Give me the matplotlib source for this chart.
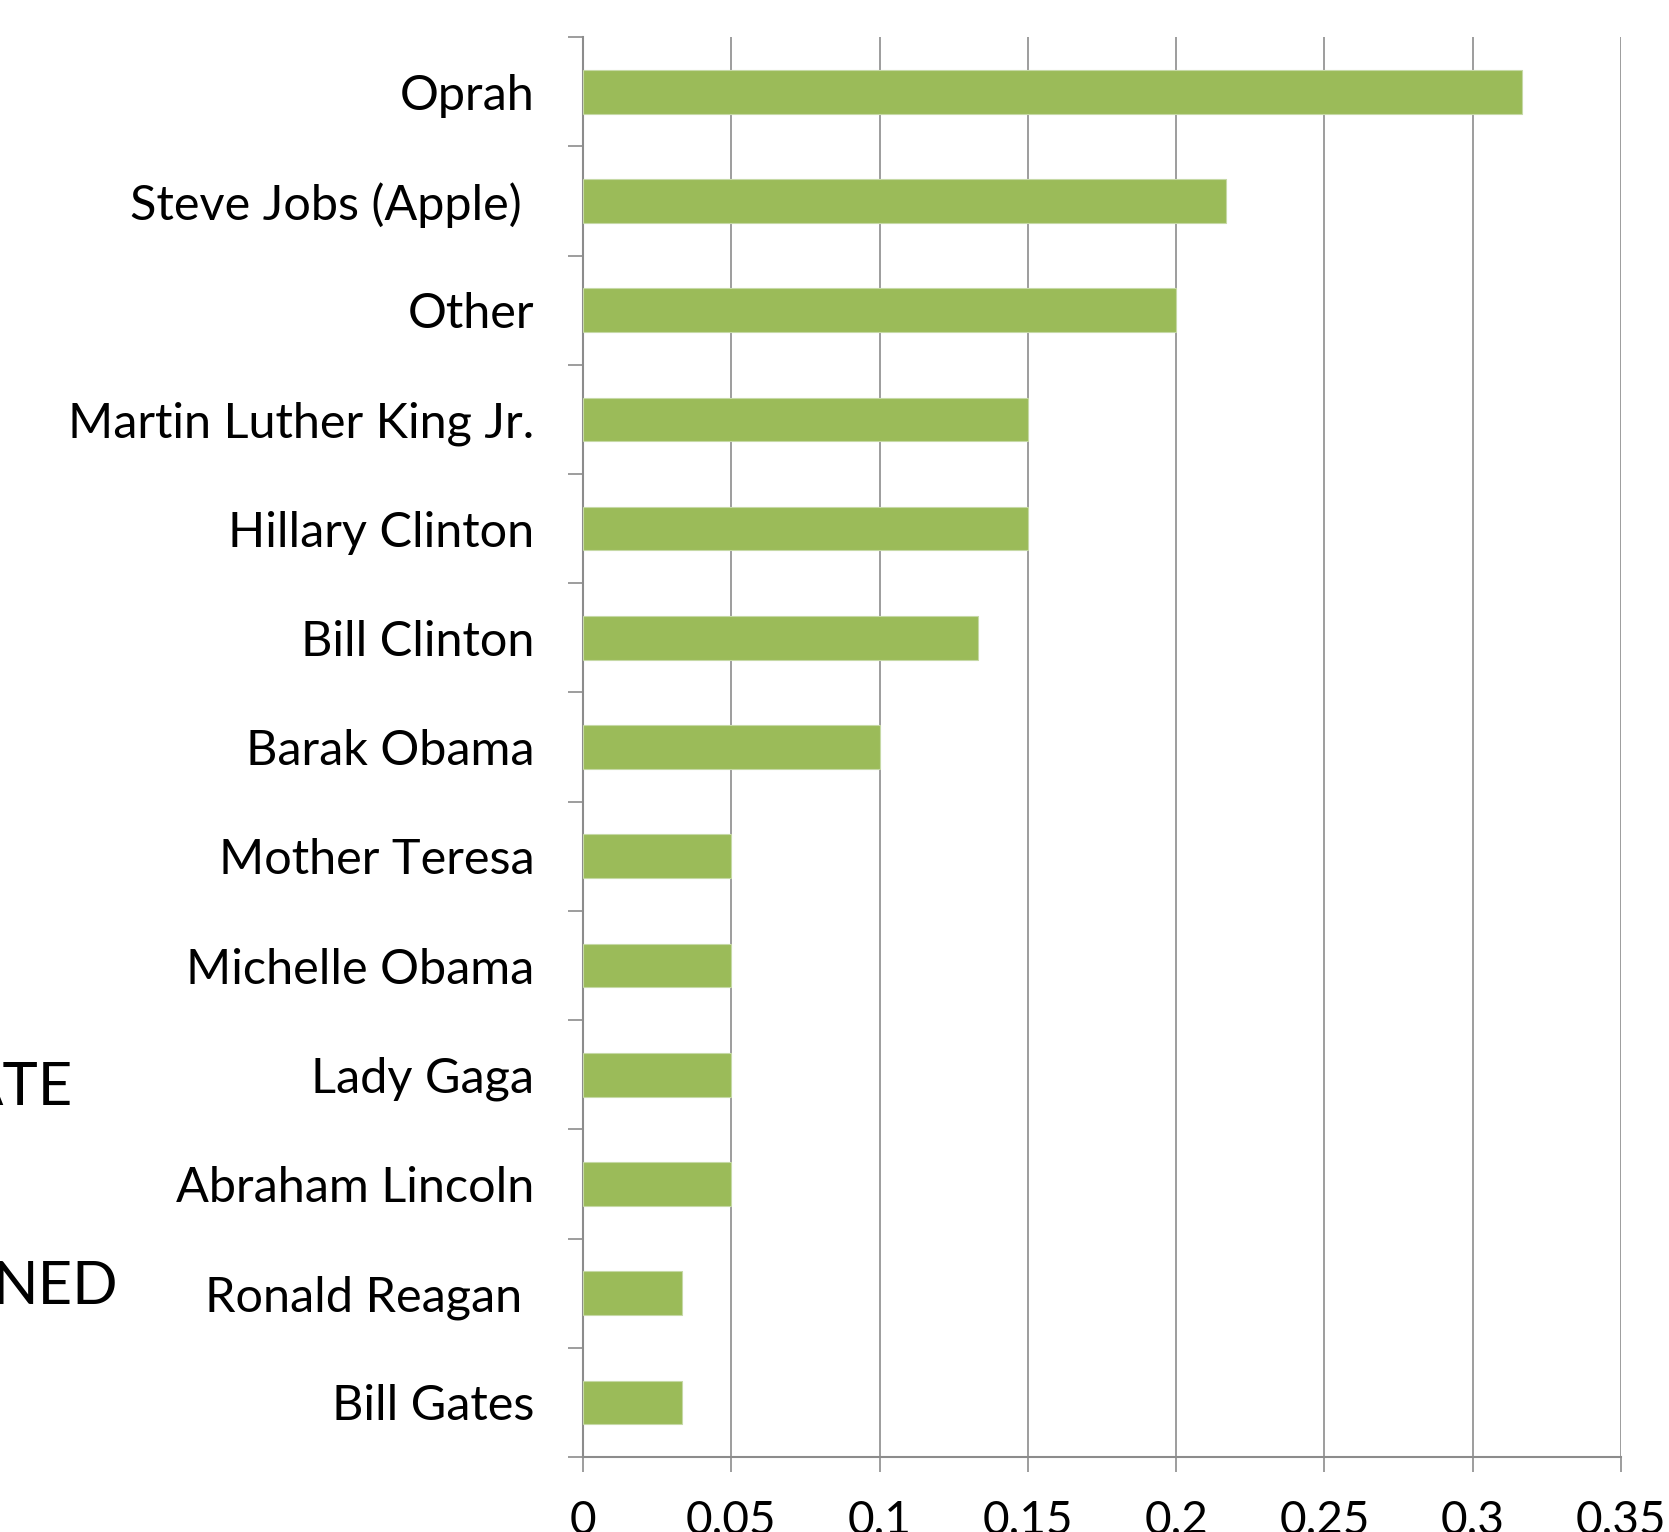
import numpy as np
import matplotlib
matplotlib.use("Agg")
import matplotlib.pyplot as plt

plt.rcParams['font.family'] = ['Lato', 'DejaVu Sans']

# share of responses per person, top to bottom
names = ["Oprah", "Steve Jobs (Apple) ", "Other", "Martin Luther King Jr.",
         "Hillary Clinton", "Bill Clinton", "Barak Obama", "Mother Teresa",
         "Michelle Obama", "Lady Gaga", "Abraham Lincoln", "Ronald Reagan ",
         "Bill Gates"]
shares = [0.3167, 0.2167, 0.2, 0.15, 0.15, 0.1333, 0.1, 0.05, 0.05, 0.05,
          0.05, 0.0333, 0.0333]
xticks = [0, 0.05, 0.1, 0.15, 0.2, 0.25, 0.3, 0.35]
xlabels = ["0", "0.05", "0.1", "0.15", "0.2", "0.25", "0.3", "0.35"]

grey = "#8c8c8c"
green = "#9bbb59"

fig = plt.figure(figsize=(16.69, 15.32), dpi=100)
ax = fig.add_axes([0.3493, 0.0489, 0.9712 - 0.3493, 0.9758 - 0.0489])

ypos = np.arange(len(names))
ax.barh(ypos, shares, height=0.4, color=green, edgecolor="#c6d9a6",
        linewidth=0.8, zorder=3)

ax.set_xlim(0, 0.35)
ax.set_ylim(len(names) - 0.5, -0.5)

# vertical gridlines
ax.set_xticks(xticks)
ax.set_xticklabels(xlabels)
ax.xaxis.grid(True, color=grey, linewidth=1.2, zorder=0)
ax.set_axisbelow(True)

# category boundaries get the tick marks, centres get the names
ax.set_yticks(np.arange(len(names) + 1) - 0.5)
ax.set_yticklabels([])
ax.set_yticks(ypos, minor=True)
ax.set_yticklabels(names, minor=True)

ax.tick_params(axis="y", which="major", length=11, width=1.2, color=grey)
ax.tick_params(axis="y", which="minor", length=0, pad=35, labelsize=35)
ax.tick_params(axis="x", length=11, width=1.2, color=grey, pad=20,
               labelsize=33)

for s in ["top", "right"]:
    ax.spines[s].set_visible(False)
for s in ["left", "bottom"]:
    ax.spines[s].set_color(grey)
    ax.spines[s].set_linewidth(1.5)

# bits of slide text peeking out on the left
fig.text(73 / 1669, 1 - 1088 / 1532, "ATE", ha="right", va="center",
         fontsize=43)
fig.text(118 / 1669, 1 - 1287 / 1532, "NED", ha="right", va="center",
         fontsize=43)

fig.savefig("out.png", dpi=100, facecolor="white")
